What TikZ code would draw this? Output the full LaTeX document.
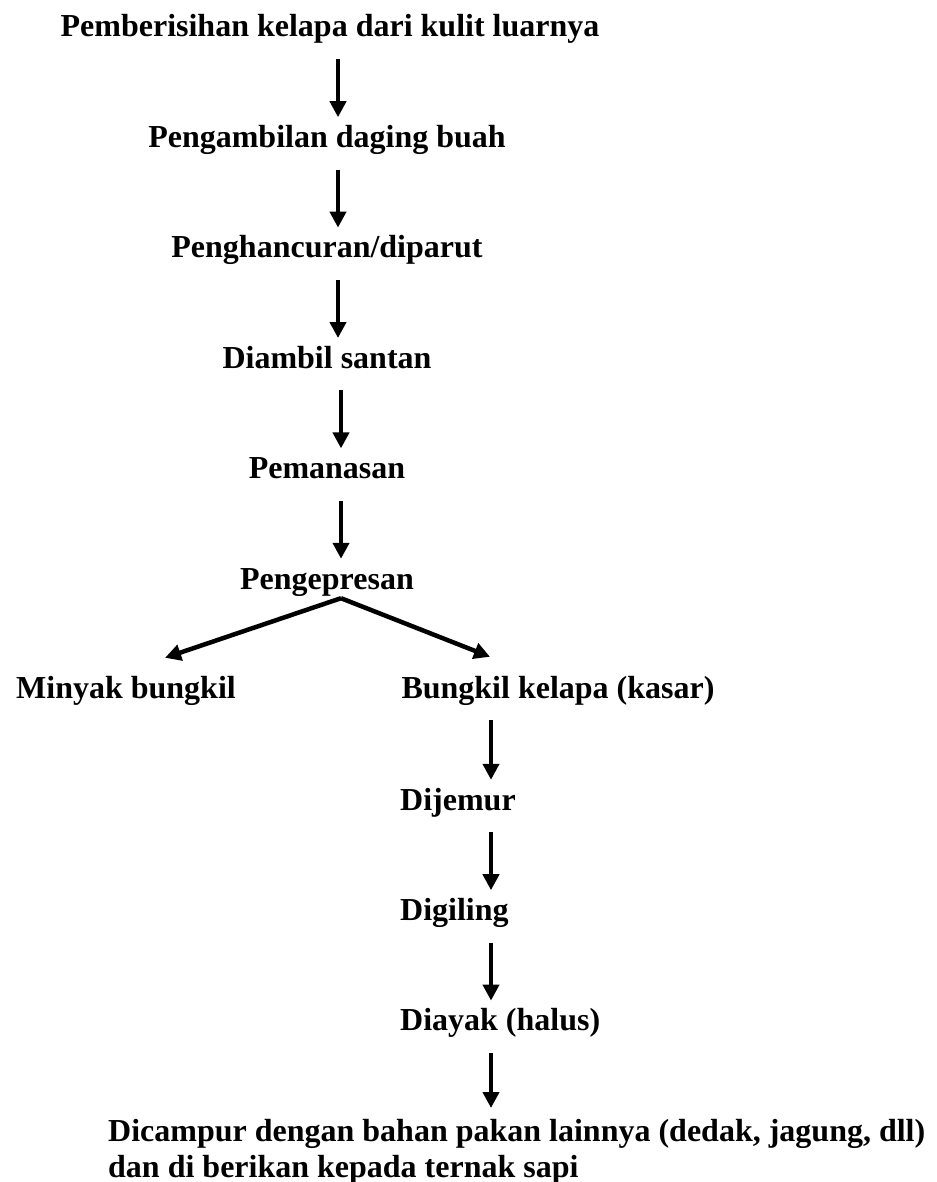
\documentclass[tikz,border=0pt]{standalone}
\usepackage{fontspec}
\setmainfont{Liberation Serif}
\usepackage{tikz}
\usetikzlibrary{positioning,arrows.meta}

\begin{document}
\begin{tikzpicture}[
  x=1pt, y=-1pt,
  stage/.style={font=\fontsize{32}{36}\selectfont\bfseries, text height=22pt, text depth=7pt, inner sep=2pt},
  arr/.style={-{Triangle[length=16pt, width=16pt]}, line width=4.5pt, shorten <=13pt, shorten >=6pt}]
\useasboundingbox (0,0) rectangle (936,1182);
\coordinate (colA) at (338,0);
\coordinate (colB) at (341,0);
\coordinate (colC) at (491,0);
% main column
\node[stage] (clean) at (330,29.5) {Pemberisihan kelapa dari kulit luarnya};
\node[stage, below=77pt of clean, xshift=-3pt] (flesh) {Pengambilan daging buah};
\node[stage, below=77pt of flesh] (grate) {Penghancuran/diparut};
\node[stage, below=77pt of grate] (milk) {Diambil santan};
\node[stage, below=77pt of milk] (heat) {Pemanasan};
\node[stage, below=77pt of heat] (press) {Pengepresan};
% branches
\node[stage] (oil) at (126,690.5) {Minyak bungkil};
\node[stage] (cake) at (558,690.5) {Bungkil kelapa (kasar)};
\node[stage, anchor=west] (dry) at (398,802.5) {Dijemur};
\node[stage, below=77pt of dry.south west, anchor=north west] (mill) {Digiling};
\node[stage, below=77pt of mill.south west, anchor=north west] (sieve) {Diayak (halus)};
\node[font=\fontsize{32}{36}\selectfont\bfseries, align=left, anchor=north west, inner sep=2pt] (mix) at (106,1117)
  {Dicampur dengan bahan pakan lainnya (dedak, jagung, dll)\\dan di berikan kepada ternak sapi};
\draw[arr] (clean.south -| colA) -- (flesh.north -| colA);
\draw[arr] (flesh.south -| colA) -- (grate.north -| colA);
\draw[arr] (grate.south -| colA) -- (milk.north -| colA);
\draw[arr] (milk.south -| colB) -- (heat.north -| colB);
\draw[arr] (heat.south -| colB) -- (press.north -| colB);
\draw[arr, shorten <=0pt, shorten >=0pt] (press.south -| colB) -- ([xshift=39pt, yshift=16pt]oil.north);
\draw[arr, shorten <=0pt, shorten >=0pt] (press.south -| colB) -- ([xshift=-68pt, yshift=17pt]cake.north);
\draw[arr] (cake.south -| colC) -- (dry.north -| colC);
\draw[arr] (dry.south -| colC) -- (mill.north -| colC);
\draw[arr] (mill.south -| colC) -- (sieve.north -| colC);
\draw[arr, shorten >=9pt] (sieve.south -| colC) -- (mix.north -| colC);
\end{tikzpicture}
\end{document}
